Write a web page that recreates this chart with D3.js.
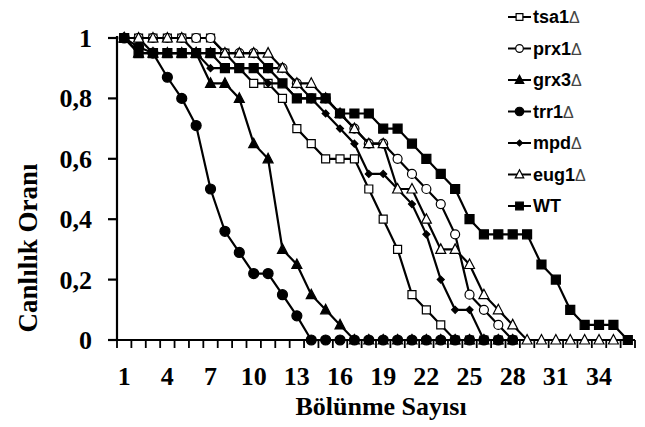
<!DOCTYPE html>
<html><head><meta charset="utf-8">
<script src="https://cdn.jsdelivr.net/npm/d3@7"></script>
<style>body{margin:0;background:#fff}svg{display:block}</style>
</head><body><svg id="c" width="645" height="427"></svg>
<script>
const categories = d3.range(1, 37);
const xTickLabels = [1,4,7,10,13,16,19,22,25,28,31,34];
const yTicks = [0,0.2,0.4,0.6,0.8,1];
const yTickLabels = ["0","0,2","0,4","0,6","0,8","1"];
const seriesNames = ["tsa1","prx1","grx3","trr1","mpd","eug1","WT"];
const tsa1 = [1,1,1,1,1,1,1,0.95,0.9,0.85,0.85,0.8,0.7,0.65,0.6,0.6,0.6,0.5,0.4,0.3,0.15,0.1,0.05,0,0,0,0,0];
const prx1 = [1,1,1,1,1,1,1,0.95,0.95,0.95,0.9,0.9,0.85,0.8,0.8,0.75,0.7,0.65,0.65,0.6,0.55,0.5,0.45,0.35,0.15,0.1,0.05,0];
const grx3 = [1,0.95,0.95,0.95,0.95,0.95,0.85,0.85,0.8,0.65,0.6,0.3,0.25,0.15,0.1,0.05,0,0,0,0,0,0,0,0,0,0,0,0];
const trr1 = [1,0.97,0.95,0.87,0.8,0.71,0.5,0.36,0.29,0.22,0.22,0.15,0.08,0,0,0,0,0,0,0,0,0,0,0,0,0,0,0];
const mpd  = [1,1,0.95,0.95,0.95,0.95,0.9,0.9,0.9,0.9,0.85,0.85,0.8,0.8,0.75,0.7,0.65,0.55,0.55,0.5,0.45,0.35,0.2,0.1,0.1,0,0,0];
const eug1 = [1,1,1,1,1,0.95,0.95,0.95,0.95,0.95,0.95,0.9,0.85,0.85,0.8,0.75,0.7,0.65,0.65,0.5,0.5,0.4,0.3,0.3,0.25,0.15,0.1,0.05,0,0,0,0,0,0,0];
const WT   = [1,0.95,0.95,0.95,0.95,0.95,0.95,0.9,0.9,0.9,0.9,0.85,0.8,0.8,0.8,0.75,0.75,0.75,0.7,0.7,0.65,0.6,0.55,0.5,0.4,0.35,0.35,0.35,0.35,0.25,0.2,0.1,0.05,0.05,0.05,0];

const series = [
  {name:"tsa1", values:tsa1, shape:"square", fill:"#fff", size:8},
  {name:"prx1", values:prx1, shape:"circle", fill:"#fff", size:9},
  {name:"grx3", values:grx3, shape:"triangle", fill:"#000", size:10},
  {name:"trr1", values:trr1, shape:"circle", fill:"#000", size:10},
  {name:"mpd",  values:mpd,  shape:"diamond", fill:"#000", size:7},
  {name:"eug1", values:eug1, shape:"triangle", fill:"#fff", size:10},
  {name:"WT",   values:WT,   shape:"square", fill:"#000", size:9}
];

const svg = d3.select("#c");
const L = 117, R = 635, T = 38, B = 340;
const xb = d3.scaleBand().domain(categories).range([L, R]).padding(0);
const xc = c => xb(c) + xb.bandwidth()/2;
const y = d3.scaleLinear().domain([0,1]).range([B, T]);

function symPath(shape, s){
  const h = s/2;
  if(shape==="square") return `M${-h},${-h}H${h}V${h}H${-h}Z`;
  if(shape==="triangle") return `M0,${-h*1.1}L${h},${h*0.8}L${-h},${h*0.8}Z`;
  if(shape==="diamond") return `M0,${-h}L${h},0L0,${h}L${-h},0Z`;
  return null;
}
function drawMarker(g, shape, fill, s, cx, cy){
  if(shape==="circle"){
    g.append("circle").attr("cx",cx).attr("cy",cy).attr("r",s/2)
     .attr("fill",fill).attr("stroke","#000").attr("stroke-width",1.2);
  } else {
    g.append("path").attr("d",symPath(shape,s)).attr("transform",`translate(${cx},${cy})`)
     .attr("fill",fill).attr("stroke","#000").attr("stroke-width",1.2);
  }
}

// axes
const ax = svg.append("g").attr("stroke","#000").attr("stroke-width",2.2);
ax.append("line").attr("x1",L).attr("x2",L).attr("y1",T-2).attr("y2",B+1);
ax.append("line").attr("x1",L-1).attr("x2",R).attr("y1",B).attr("y2",B);
yTicks.forEach(t => ax.append("line").attr("x1",L-9).attr("x2",L).attr("y1",y(t)).attr("y2",y(t)));
categories.forEach(c => ax.append("line").attr("x1",xb(c)).attr("x2",xb(c)).attr("y1",B).attr("y2",B+8).attr("stroke-width",1.8));
ax.append("line").attr("x1",R).attr("x2",R).attr("y1",B).attr("y2",B+8).attr("stroke-width",1.8);

const serif = "'Liberation Serif','Times New Roman',serif";
yTicks.forEach((t,i) => svg.append("text").attr("x",92).attr("y",y(t)+9)
  .attr("text-anchor","end").attr("font-family",serif).attr("font-weight","bold")
  .attr("font-size",26).text(yTickLabels[i]));
xTickLabels.forEach(c => svg.append("text").attr("x",xc(c)).attr("y",385)
  .attr("text-anchor","middle").attr("font-family",serif).attr("font-weight","bold")
  .attr("font-size",26).text(c));
svg.append("text").attr("x",381).attr("y",415).attr("text-anchor","middle")
  .attr("font-family",serif).attr("font-weight","bold").attr("font-size",26).text("Bölünme Sayısı");
svg.append("text").attr("transform","translate(37,248) rotate(-90)").attr("text-anchor","middle")
  .attr("font-family",serif).attr("font-weight","bold").attr("font-size",27).text("Canlılık Oranı");

// series
const line = d3.line().x((d,i)=>xc(categories[i])).y(d=>y(d));
series.forEach(s => {
  const g = svg.append("g");
  g.append("path").attr("d",line(s.values)).attr("fill","none").attr("stroke","#000").attr("stroke-width",2.2);
  s.values.forEach((v,i) => drawMarker(g, s.shape, s.fill, s.size, xc(categories[i]), y(v)));
});

// legend
const sans = "'Liberation Sans',Arial,sans-serif";
series.forEach((s,i) => {
  const ly = 17 + i*31.5;
  const g = svg.append("g");
  g.append("line").attr("x1",508).attr("x2",531).attr("y1",ly).attr("y2",ly).attr("stroke","#000").attr("stroke-width",2);
  drawMarker(g, s.shape, s.fill, s.size*0.85, 519.5, ly);
  const t = g.append("text").attr("x",533).attr("y",ly+6).attr("font-family",sans)
    .attr("font-weight","bold").attr("font-size",18).text(s.name);
  if(s.name!=="WT") t.append("tspan").attr("font-weight","normal").attr("font-size",16).attr("fill","#444").text("Δ");
});
</script></body></html>
